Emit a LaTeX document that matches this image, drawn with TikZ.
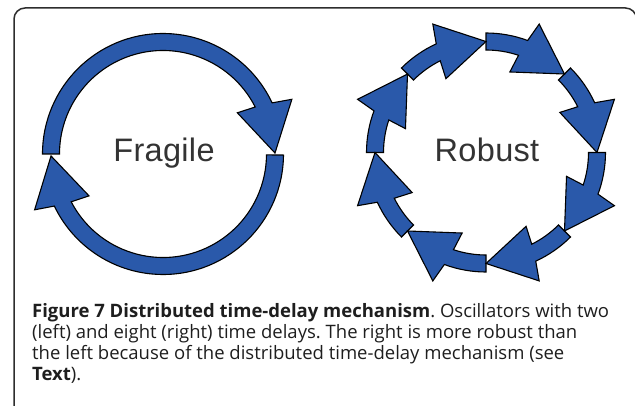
\documentclass[tikz,border=0pt]{standalone}
\usepackage{fontspec}
\setmainfont{Open Sans}
\newfontfamily\labelfont[LetterSpace=1]{Liberation Sans}
\usetikzlibrary{positioning}
\frenchspacing
\definecolor{ringblue}{RGB}{42,89,170}
\definecolor{framegray}{RGB}{45,45,45}
\definecolor{labelgray}{RGB}{51,51,51}
\definecolor{captiongray}{RGB}{30,30,30}

\tikzset{
  ringarrow/.style={fill=ringblue, draw=black, line width=1.1pt, line join=miter},
  ringlabel/.style={font=\labelfont\fontsize{32.5}{32.5}\selectfont, text=labelgray, anchor=base, inner sep=0pt},
  captionline/.style={font=\fontsize{18.5}{18.5}\selectfont, text=captiongray, anchor=base west, inner sep=0pt},
}

% one bent arrow of a ring: centre, radius, tail angle, tip angle
\newcommand{\ringarrow}[4]{%
  \filldraw[ringarrow, shift={#1}] (#3:#2+8.5) arc[start angle=#3, end angle=#4+24.6, radius=#2+8.5]
    -- (#4+22.5:#2+28) -- (#4:#2) -- (#4+28.5:#2-27) -- (#4+26.5:#2-8.5)
    arc[start angle=#4+26.5, end angle=#3, radius=#2-8.5] -- cycle;}

\begin{document}
\begin{tikzpicture}[line cap=round,line join=round,x=1pt,y=1pt]
\useasboundingbox (0,0) rectangle (635,405);
% frame
\draw [framegray, line width=1.5pt, rounded corners=11pt] (14,-5) -- (14,397) -- (636.5,397) -- (636.5,-5);
% two time delays
\ringarrow{(163,251)}{112}{180}{0.5}
\ringarrow{(163,251)}{112}{-0.5}{-179}
\node [ringlabel] (fragile) at (164,243) {Fragile};
% eight time delays
\foreach \a in {0,45,...,315}
  \ringarrow{(486,252.5)}{111}{\a+45}{\a};
\node [ringlabel] (robust) at (487,243) {Robust};
% caption
\node [captionline] (cap1) at (32,88) {\textbf{Figure 7 Distributed time-delay mechanism}. Oscillators with two};
\node [captionline] (cap2) at (32,67) {(left) and eight (right) time delays. The right is more robust than};
\node [captionline] (cap3) at (32,46) {the left because of the distributed time-delay mechanism (see};
\node [captionline] (cap4) at (32,25) {\textbf{Text}).};
\end{tikzpicture}
\end{document}
